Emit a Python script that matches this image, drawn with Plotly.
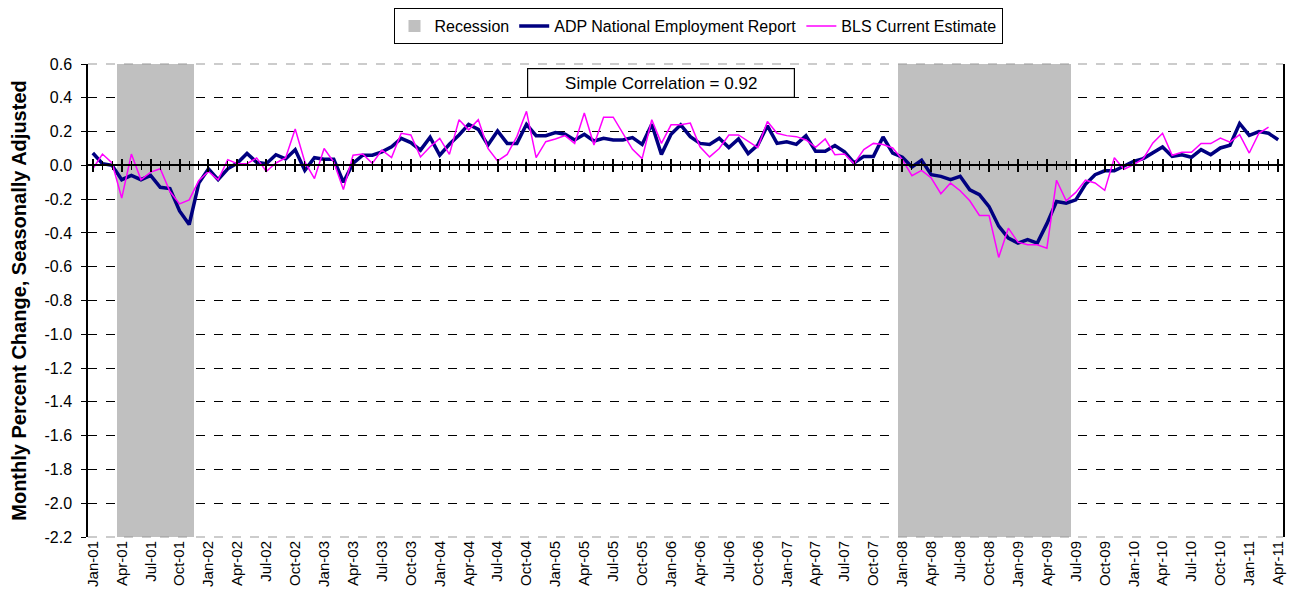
import pandas as pd
import plotly.graph_objects as go

# ---------------- data ----------------
months = pd.date_range("2001-01-01", periods=124, freq="MS").strftime("%b-%y").tolist()

adp = [
    0.073, 0.01, 0.0, -0.085, -0.06, -0.085, -0.06, -0.13, -0.137, -0.27, -0.35, -0.105,
    -0.02, -0.085, -0.02, 0.014, 0.07, 0.018, 0.01, 0.063, 0.038, 0.093, -0.03, 0.045,
    0.036, 0.036, -0.10, 0.012, 0.06, 0.06, 0.08, 0.11, 0.16, 0.135, 0.09, 0.166,
    0.06, 0.125, 0.18, 0.243, 0.213, 0.12, 0.204, 0.13, 0.13, 0.243, 0.176, 0.176,
    0.194, 0.184, 0.15, 0.184, 0.144, 0.16, 0.15, 0.15, 0.164, 0.124, 0.243, 0.065,
    0.184, 0.24, 0.17, 0.13, 0.124, 0.16, 0.105, 0.156, 0.07, 0.12, 0.234, 0.13,
    0.14, 0.124, 0.176, 0.083, 0.083, 0.117, 0.08, 0.014, 0.053, 0.053, 0.168, 0.073,
    0.048, -0.01, 0.03, -0.055, -0.065, -0.085, -0.065, -0.145, -0.174, -0.244, -0.36, -0.43,
    -0.46, -0.44, -0.46, -0.345, -0.214, -0.224, -0.204, -0.112, -0.055, -0.032, -0.032, -0.006,
    0.024, 0.04, 0.073, 0.109, 0.053, 0.063, 0.048, 0.093, 0.063, 0.103, 0.119, 0.248,
    0.178, 0.2, 0.19, 0.152,
]

bls = [
    -0.02, 0.067, 0.014, -0.194, 0.067, -0.085, -0.04, -0.02, -0.155, -0.228, -0.204, -0.09,
    -0.036, -0.085, 0.034, 0.01, 0.01, 0.044, -0.036, 0.014, 0.044, 0.215, 0.02, -0.078,
    0.1, 0.02, -0.143, 0.06, 0.067, 0.012, 0.09, 0.046, 0.19, 0.18, 0.05, 0.11,
    0.16, 0.065, 0.27, 0.21, 0.27, 0.10, 0.026, 0.065, 0.17, 0.32, 0.046, 0.14,
    0.156, 0.176, 0.13, 0.31, 0.12, 0.285, 0.285, 0.19, 0.095, 0.04, 0.27, 0.13,
    0.24, 0.24, 0.25, 0.11, 0.05, 0.10, 0.18, 0.18, 0.14, 0.105, 0.26, 0.19,
    0.176, 0.17, 0.15, 0.107, 0.156, 0.063, 0.067, 0.01, 0.093, 0.13, 0.123, 0.103,
    0.034, -0.061, -0.03, -0.075, -0.168, -0.105, -0.15, -0.21, -0.297, -0.297, -0.545, -0.372,
    -0.455, -0.47, -0.47, -0.49, -0.088, -0.21, -0.16, -0.088, -0.104, -0.148, 0.045, -0.023,
    0.004, 0.04, 0.133, 0.19, 0.06, 0.077, 0.077, 0.129, 0.129, 0.162, 0.137, 0.182,
    0.073, 0.19, 0.226, None,
]

recession_periods = [("Apr-01", "Nov-01"), ("Jan-08", "Jun-09")]
y_min, y_max = -2.2, 0.6
y_ticks = [round(-2.2 + 0.2 * k, 1) for k in range(15)]
x_tick_labels = months[::3]
correlation_text = "Simple Correlation = 0.92"

# recession flags from periods
rec_flag = [False] * len(months)
for a, b in recession_periods:
    ia, ib = months.index(a), months.index(b)
    for k in range(ia, ib + 1):
        rec_flag[k] = True
rec_height = [(y_max - y_min) if f else None for f in rec_flag]

FONT = "Arial, Liberation Sans, sans-serif"

fig = go.Figure()
fig.add_trace(go.Bar(
    x=months, y=rec_height, base=y_min, name="Recession",
    marker=dict(color="#c0c0c0", line=dict(width=0)), width=1.0,
    hoverinfo="skip",
))
fig.add_trace(go.Scatter(
    x=months, y=adp, name="ADP National Employment Report", mode="lines",
    line=dict(color="#000080", width=3.5),
))
fig.add_trace(go.Scatter(
    x=months, y=bls, name="BLS Current Estimate", mode="lines",
    line=dict(color="#ff00ff", width=1.5),
))

zero_pos = (0 - y_min) / (y_max - y_min)
axis_ticks_common = dict(
    overlaying="x", anchor="free", position=zero_pos, type="linear",
    range=[-0.5, len(months) - 0.5], tick0=0, dtick=3,
    ticklen=6, tickwidth=1.5, tickcolor="black",
    showticklabels=False, showgrid=False, zeroline=False, automargin=False,
)

# page body has an 8px margin, so the figure is sized/offset to compensate
fig.update_layout(
    width=1296, height=604,
    margin=dict(l=80, r=21, t=56, b=75, autoexpand=False),
    paper_bgcolor="white", plot_bgcolor="white",
    font=dict(family=FONT, color="black", size=15),
    bargap=0,
    showlegend=True,
    legend=dict(
        orientation="h", x=690 / 1296, xref="container", xanchor="center",
        y=1.0, yref="container", yanchor="top",
        bordercolor="black", borderwidth=1, bgcolor="white",
        font=dict(size=16, family=FONT), traceorder="normal",
    ),
    xaxis=dict(
        type="category", categoryorder="array", categoryarray=months,
        range=[-0.5, len(months) - 0.5],
        tickmode="array", tickvals=x_tick_labels, ticktext=x_tick_labels,
        tickangle=-90, tickfont=dict(size=15), ticks="",
        showgrid=False, zeroline=False, showline=False, automargin=False,
    ),
    xaxis2=dict(
        **axis_ticks_common, ticks="outside", showline=True, linecolor="black", linewidth=2,
        minor=dict(dtick=1, tick0=0, ticks="outside", ticklen=4, tickwidth=1.2, tickcolor="black"),
    ),
    xaxis3=dict(
        **axis_ticks_common, ticks="inside", showline=False,
        minor=dict(dtick=1, tick0=0, ticks="inside", ticklen=4, tickwidth=1.2, tickcolor="black"),
    ),
    yaxis=dict(
        range=[y_min, y_max], tickmode="array", tickvals=y_ticks,
        ticktext=[f"{v:.1f}" for v in y_ticks], tickfont=dict(size=16),
        ticks="outside", ticklen=5, tickcolor="black", ticklabelstandoff=6,
        showline=True, linecolor="black", linewidth=1.5, mirror=True,
        showgrid=False, zeroline=False, automargin=False,
        title=dict(text="Monthly Percent Change, Seasonally Adjusted",
                   font=dict(size=20, weight="bold"), standoff=18),
    ),
    yaxis2=dict(
        overlaying="y", range=[y_min, y_max], tickmode="array",
        tickvals=[v for v in y_ticks if y_min < v < y_max],
        showticklabels=False, ticks="", showline=False, zeroline=False,
        showgrid=True, gridcolor="black", griddash="dash", gridwidth=1,
    ),
    annotations=[dict(
        text=correlation_text, xref="paper", yref="paper", x=0.4795, y=0.96,
        xanchor="center", yanchor="middle",
        showarrow=False, font=dict(size=17), bordercolor="black", borderwidth=1.2,
        bgcolor="white", width=262, height=24, borderpad=2,
    )],
    shapes=[
        dict(type="line", xref="paper", yref="paper", x0=0, x1=1, y0=1, y1=1,
             line=dict(color="#999999", width=1, dash="dash")),
        dict(type="line", xref="paper", yref="paper", x0=0, x1=1, y0=0, y1=0,
             line=dict(color="#999999", width=1, dash="dash")),
    ],
)

# helper traces so the overlay axes (zero-line ticks, gridlines) are rendered
fig.add_trace(go.Scatter(x=[None], y=[None], xaxis="x2", showlegend=False, hoverinfo="skip"))
fig.add_trace(go.Scatter(x=[None], y=[None], xaxis="x3", showlegend=False, hoverinfo="skip"))
fig.add_trace(go.Scatter(x=[None], y=[None], yaxis="y2", showlegend=False, hoverinfo="skip"))

fig.write_html("out.html")
